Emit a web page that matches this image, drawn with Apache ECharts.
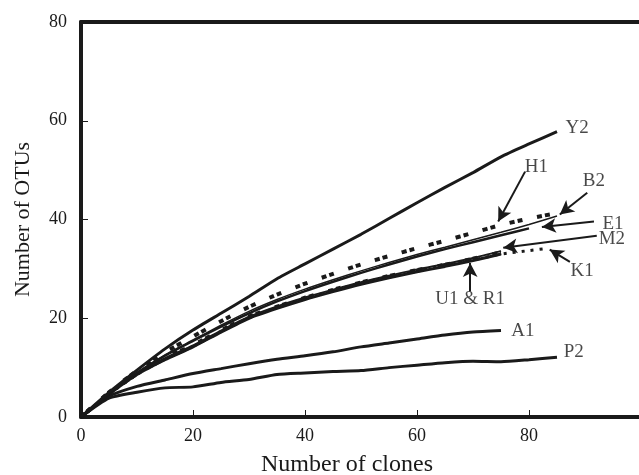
<!DOCTYPE html>
<html>
<head>
<meta charset="utf-8">
<script src="https://cdn.jsdelivr.net/npm/echarts@6/dist/echarts.min.js"></script>
<style>
  html, body { margin: 0; padding: 0; background: #fff; }
  #chart { width: 639px; height: 475px; }
</style>
</head>
<body>
<div id="chart"></div>
<script>
// number of clones (x), shared by most curves
var clones = [0, 5, 10, 15, 20, 25, 30, 35, 40, 45, 50, 55, 60, 65, 70, 75, 80, 85];
var k1Clones = [0, 5, 10, 15, 20, 25, 30, 35, 40, 45, 50, 55, 60, 65, 70, 75, 80, 83];

// number of OTUs per library
var y2 = [0, 5, 9.5, 13.8, 17.6, 21, 24.4, 28, 31, 34, 37, 40.2, 43.4, 46.5, 49.5, 52.7, 55.3, 57.8];
var h1 = [0, 5, 9.4, 13.1, 16.3, 19.4, 22.3, 24.8, 27, 29, 30.9, 32.6, 34.2, 35.7, 37.3, 38.9, 40.2, 41.3];
var b2 = [0, 4.8, 9, 12.6, 15.6, 18.6, 21.4, 23.8, 25.9, 27.8, 29.6, 31.3, 32.9, 34.4, 35.9, 37.4, 39, 40.7];
var e1 = [0, 4.7, 8.9, 12.4, 15.4, 18.3, 21, 23.4, 25.5, 27.4, 29.2, 30.9, 32.5, 34, 35.4, 36.8, 38.2];
var m2 = [0, 4.7, 8.8, 11.9, 14.5, 17.5, 20.3, 22.4, 24.2, 25.8, 27.3, 28.6, 29.9, 31, 32.2, 33.6];
var u1 = [0, 4.6, 8.6, 11.6, 14.2, 17.2, 20, 22, 23.8, 25.4, 26.9, 28.2, 29.4, 30.5, 31.7, 33];
var r1 = [0, 4.8, 8.8, 11.9, 14.5, 17.5, 20.3, 22.3, 24.1, 25.7, 27.2, 28.5, 29.7, 30.8, 32, 33.3];
var k1 = [0, 4.6, 8.6, 11.7, 14.3, 17.3, 20.1, 22.2, 24, 25.6, 27.1, 28.4, 29.6, 30.7, 31.8, 33, 33.7, 34.1];
var a1 = [0, 4.2, 6.2, 7.5, 8.8, 9.8, 10.8, 11.7, 12.4, 13.2, 14.2, 15, 15.8, 16.6, 17.2, 17.5];
var p2 = [0, 3.8, 5, 5.9, 6.1, 7, 7.6, 8.6, 8.9, 9.2, 9.4, 10, 10.5, 11, 11.3, 11.2, 11.6, 12.1];

// curve labels: [name, x, y]
var curveLabels = [
  ['Y2', 88.6, 58.6], ['H1', 81.3, 50.7], ['B2', 91.6, 47.7], ['E1', 95, 39.1],
  ['M2', 94.8, 36.1], ['K1', 89.5, 29.6], ['U1 & R1', 69.5, 23.9],
  ['A1', 78.9, 17.4], ['P2', 88, 13.2]
];
// arrows: [fromX, fromY, toX, toY]
var arrows = [
  [79.3, 49.7, 74.5, 39.6],
  [90.4, 45.4, 85.5, 41],
  [91.6, 39.6, 82.3, 38.5],
  [92.1, 36.7, 75.4, 34.3],
  [87.3, 31.4, 83.7, 33.9],
  [69.5, 25.4, 69.5, 31.2]
];

var xTicks = [0, 20, 40, 60, 80];
var yTicks = [0, 20, 40, 60, 80];

var ink = '#1a1a1a';
var serif = '"Liberation Serif", "Times New Roman", serif';

function pts(xs, ys) {
  return ys.map(function (y, i) { return [xs[i], y]; });
}

function line(name, xs, ys, width, type) {
  return {
    name: name,
    type: 'line',
    data: pts(xs, ys),
    showSymbol: false,
    smooth: 0.2,
    silent: true,
    lineStyle: { color: ink, width: width, type: type || 'solid', cap: 'butt' }
  };
}

var myChart = echarts.init(document.getElementById('chart'));
myChart.setOption({
  backgroundColor: '#fff',
  animation: false,
  grid: { left: 81, top: 22, right: -2, bottom: 58, outerBoundsMode: 'none', containLabel: false },
  xAxis: [{
    type: 'value',
    min: 0, max: 100, interval: 20,
    name: 'Number of clones',
    nameLocation: 'middle',
    nameGap: 36,
    nameTextStyle: { fontFamily: serif, fontSize: 24, color: ink, padding: [0, 28, 0, 0] },
    axisLine: { lineStyle: { color: ink, width: 4 } },
    axisTick: { inside: true, length: 7, lineStyle: { color: ink, width: 1 } },
    axisLabel: {
      margin: 10, fontFamily: serif, fontSize: 18, color: ink,
      formatter: function (v) { return xTicks.indexOf(v) >= 0 ? String(v) : ''; }
    },
    splitLine: { show: false }
  }, {
    type: 'value',
    position: 'top',
    min: 0, max: 100,
    axisLine: { lineStyle: { color: ink, width: 4 } },
    axisTick: { show: false },
    axisLabel: { show: false },
    splitLine: { show: false }
  }],
  yAxis: {
    type: 'value',
    min: 0, max: 80, interval: 20,
    name: 'Number of OTUs',
    nameLocation: 'middle',
    nameGap: 47,
    nameTextStyle: { fontFamily: serif, fontSize: 22, color: ink },
    axisLine: { lineStyle: { color: ink, width: 4 } },
    axisTick: { inside: true, length: 7, lineStyle: { color: ink, width: 1 } },
    axisLabel: {
      margin: 14, fontFamily: serif, fontSize: 18, color: ink,
      formatter: function (v) { return yTicks.indexOf(v) >= 0 ? String(v) : ''; }
    },
    splitLine: { show: false }
  },
  series: [
    line('P2', clones, p2, 3),
    line('A1', clones, a1, 3),
    line('K1', k1Clones, k1, 3, [3, 6]),
    line('U1', clones, u1, 3),
    line('R1', clones, r1, 4.5, [5, 3, 5, 15]),
    line('M2', clones, m2, 2),
    line('E1', clones, e1, 2.5),
    line('B2', clones, b2, 1.5),
    line('H1', clones, h1, 4, [5, 3, 5, 15]),
    line('Y2', clones, y2, 3),
    {
      name: 'labels',
      type: 'scatter',
      symbolSize: 0,
      silent: true,
      data: curveLabels.map(function (d) { return { name: d[0], value: [d[1], d[2]] }; }),
      label: {
        show: true, position: 'inside', formatter: '{b}',
        fontFamily: serif, fontSize: 19, color: ink
      },
      markLine: {
        silent: true,
        symbol: ['none', 'arrow'],
        symbolSize: [11, 14],
        label: { show: false },
        lineStyle: { color: ink, width: 2, type: 'solid' },
        data: arrows.map(function (a) {
          return [{ coord: [a[0], a[1]] }, { coord: [a[2], a[3]] }];
        })
      }
    }
  ]
});
</script>
</body>
</html>
